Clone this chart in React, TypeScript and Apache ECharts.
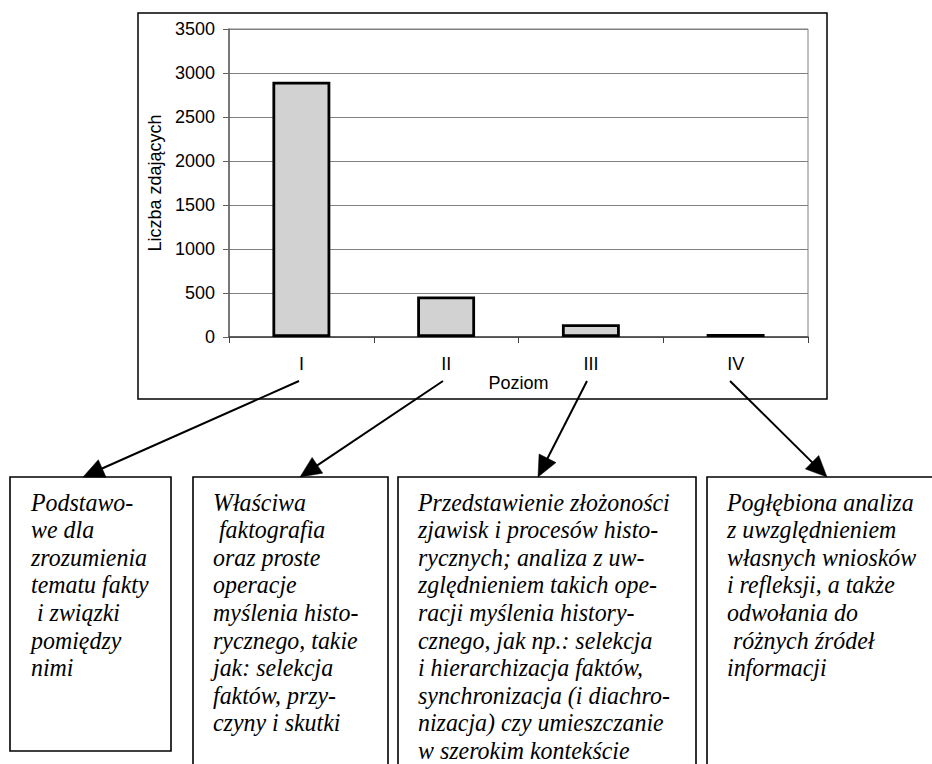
import React, { useEffect, useRef } from 'react';
import * as echarts from 'echarts';

const categories = ['I', 'II', 'III', 'IV'];
const values = [2900, 460, 145, 35];
const yMin = 0;
const yMax = 3500;
const yInterval = 500;

const box1Lines = ['Podstawo-', 'we dla', 'zrozumienia', 'tematu fakty', ' i związki', 'pomiędzy', 'nimi'];
const box2Lines = ['Właściwa', ' faktografia', 'oraz proste', 'operacje', 'myślenia histo-', 'rycznego, takie', 'jak: selekcja', 'faktów, przy-', 'czyny i skutki'];
const box3Lines = ['Przedstawienie złożoności', 'zjawisk i procesów histo-', 'rycznych; analiza z uw-', 'zględnieniem takich ope-', 'racji myślenia history-', 'cznego, jak np.: selekcja', 'i hierarchizacja faktów,', 'synchronizacja (i diachro-', 'nizacja) czy umieszczanie', 'w szerokim kontekście'];
const box4Lines = ['Pogłębiona analiza', 'z uwzględnieniem', 'własnych wniosków', 'i refleksji, a także', 'odwołania do', ' różnych źródeł', 'informacji'];

const SANS = 'Liberation Sans';

function arrow(x1: number, y1: number, x2: number, y2: number) {
  const dx = x2 - x1;
  const dy = y2 - y1;
  const len = Math.sqrt(dx * dx + dy * dy);
  const ux = dx / len;
  const uy = dy / len;
  const hl = 21;
  const hw = 9.5;
  const bx = x2 - ux * hl;
  const by = y2 - uy * hl;
  return [
    {
      type: 'line',
      shape: { x1, y1, x2: bx + ux * 2, y2: by + uy * 2 },
      style: { stroke: '#000', lineWidth: 2 },
      silent: true,
    },
    {
      type: 'polygon',
      shape: {
        points: [
          [x2, y2],
          [bx - uy * hw, by + ux * hw],
          [bx + uy * hw, by - ux * hw],
        ],
      },
      style: { fill: '#000', stroke: '#000', lineWidth: 0.5 },
      silent: true,
    },
  ];
}

function box(x: number, y: number, w: number, h: number, lines: string[], tx: number) {
  return [
    {
      type: 'rect',
      shape: { x, y, width: w, height: h },
      style: { fill: '#fff', stroke: '#000', lineWidth: 1.6 },
      silent: true,
    },
    {
      type: 'text',
      x: tx,
      y: 488,
      scaleX: 0.92,
      style: {
        text: lines.join('\n'),
        font: "italic 26px 'Liberation Serif', 'Times New Roman', serif",
        lineHeight: 27.6,
        fill: '#000',
        textAlign: 'left',
        textVerticalAlign: 'top',
      },
      silent: true,
    },
  ];
}

export default function App() {
  const ref = useRef<HTMLDivElement>(null);
  useEffect(() => {
    const chart = echarts.init(ref.current!, null, { renderer: 'svg' });
    chart.setOption({
      animation: false,
      backgroundColor: '#fff',
      textStyle: { fontFamily: SANS },
      grid: {
        left: 229,
        top: 29,
        width: 579,
        height: 308,
        show: true,
        borderColor: '#808080',
        borderWidth: 1,
        backgroundColor: 'transparent',
      },
      xAxis: {
        type: 'category',
        data: categories,
        boundaryGap: true,
        name: 'Poziom',
        nameLocation: 'middle',
        nameGap: 34,
        nameTextStyle: { fontFamily: SANS, fontSize: 18, color: '#000' },
        axisLine: { lineStyle: { color: '#404040', width: 1.5 } },
        axisTick: { show: true, alignWithLabel: false, length: 6, lineStyle: { color: '#404040' } },
        axisLabel: { fontFamily: SANS, fontSize: 18, color: '#000', margin: 18 },
      },
      yAxis: {
        type: 'value',
        min: yMin,
        max: yMax,
        interval: yInterval,
        name: 'Liczba zdających',
        nameLocation: 'middle',
        nameRotate: 90,
        nameGap: 64,
        nameTextStyle: { fontFamily: SANS, fontSize: 18, color: '#000' },
        axisLine: { show: true, lineStyle: { color: '#606060', width: 1.5 } },
        axisTick: { show: true, length: 6, lineStyle: { color: '#606060' } },
        axisLabel: {
          fontFamily: SANS,
          fontSize: 18,
          color: '#000',
          margin: 14,
          formatter: (v: number) => String(v),
        },
        splitLine: { show: true, lineStyle: { color: '#808080', width: 1 } },
      },
      series: [
        {
          type: 'bar',
          data: values,
          barWidth: '40%',
          itemStyle: { color: '#d2d2d2', borderColor: '#000', borderWidth: 2.8 },
        },
      ],
      graphic: [
        {
          type: 'rect',
          shape: { x: 138, y: 13, width: 689, height: 386 },
          style: { fill: 'none', stroke: '#000', lineWidth: 1.5 },
          silent: true,
        },
        ...box(10, 477, 161, 274, box1Lines, 31),
        ...box(193, 477, 195, 300, box2Lines, 213),
        ...box(398, 477, 298, 300, box3Lines, 418),
        ...box(707, 477, 240, 300, box4Lines, 727),
        ...arrow(299, 381, 83, 477),
        ...arrow(443, 381, 300, 477),
        ...arrow(587, 381, 538, 477),
        ...arrow(730, 381, 827, 477),
      ],
    });
    return () => chart.dispose();
  }, []);
  return (
    <div
      ref={ref}
      style={{ position: 'fixed', left: 0, top: 0, width: 932, height: 764, background: '#fff' }}
    />
  );
}
